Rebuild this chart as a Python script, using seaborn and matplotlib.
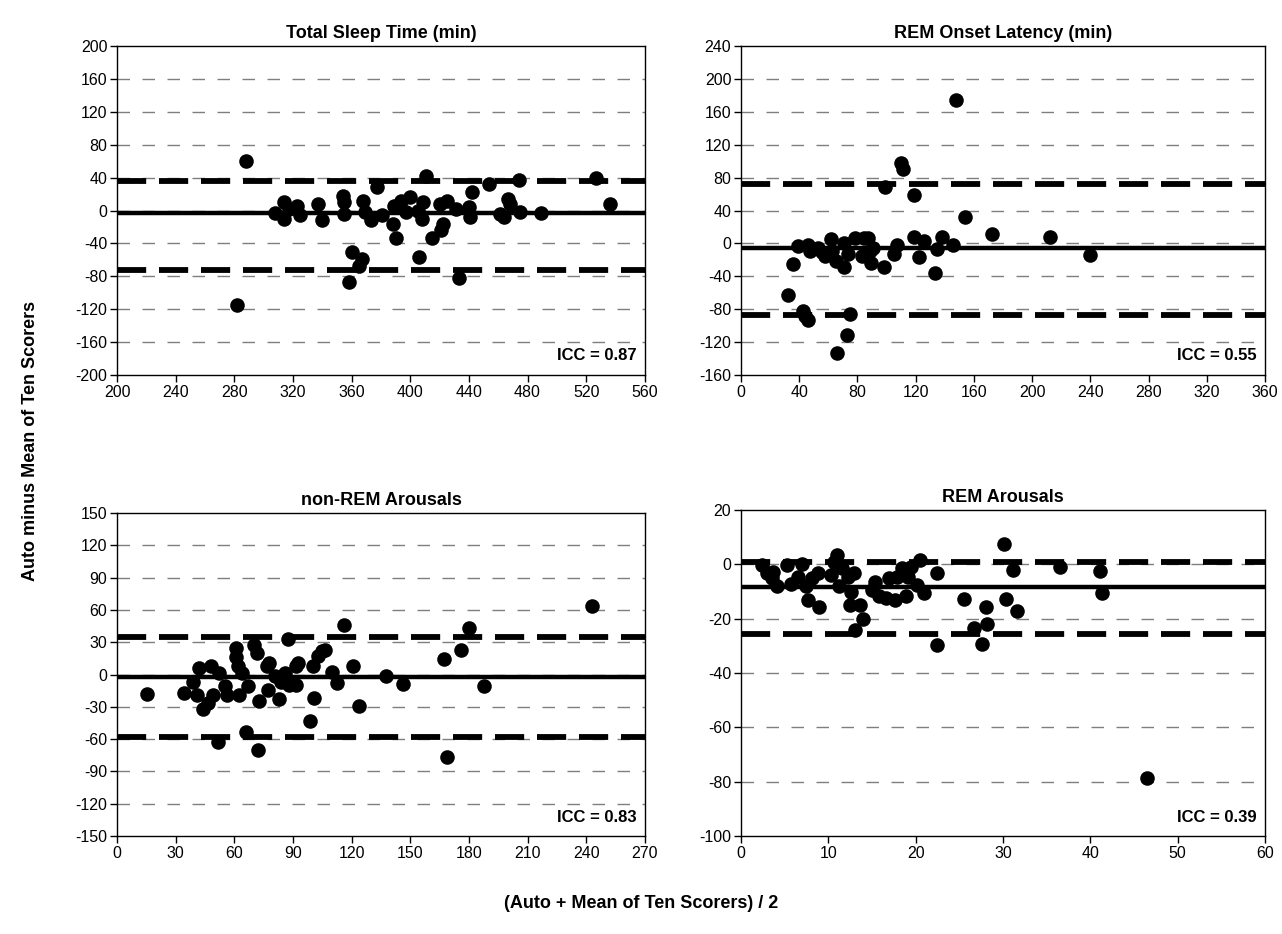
import matplotlib
matplotlib.use("Agg")
import matplotlib.pyplot as plt
import seaborn as sns
import numpy as np
import pandas as pd

# ---------------- data ----------------
tst_x = [288, 282, 308, 314, 314, 317, 323, 325, 337, 340, 354, 355, 355, 360, 367, 365, 358,
         368, 369, 373, 377, 381, 388, 390, 389, 394, 400, 397, 405, 408, 409, 411, 406, 415,
         421, 422, 420, 425, 433, 431, 440, 441, 442, 454, 461, 464, 467, 468, 474, 475, 489,
         527, 536]
tst_y = [60, -115, -3, 10, -10, 2, 6, -6, 8, -12, 18, 10, -4, -50, -59, -67, -87,
         12, -2, -12, 28, -6, -16, -33, 6, 12, 16, -2, 0, -10, 10, 42, -56, -34,
         -24, -16, 8, 12, -82, 2, 4, -8, 23, 32, -4, -8, 14, 8, 37, -2, -3,
         40, 8]

rol_x = [147.5, 109.6, 111.3, 99, 119, 154, 172.8, 212.5, 239.5, 32, 35.5, 39, 42.6, 43.8,
         45.7, 45.7, 47.3, 53, 55.6, 58, 62, 62.7, 65, 70.5, 66, 72.9, 75, 71, 73.4, 78,
         82.8, 84.7, 87.6, 88.8, 91, 89, 98, 105.3, 107, 119, 122, 125.4, 133, 134.4, 138,
         145.6]
rol_y = [174, 98, 90, 68, 59, 32, 11, 8, -14, -63, -25, -3, -82, -88,
         -93, -2, -9, -5, -11, -15, 5, -9, -21, -29, -133, -111, -86, 1, -13, 7,
         -15, 7, 7, -9, -5, -24, -29, -13, -2, 8, -17, 3, -36, -7, 8,
         -2]

nra_x = [15.5, 34.5, 38.9, 40.8, 42, 43.8, 46.5, 47.9, 49, 51.8, 52.3, 55.3, 56, 61, 61,
         62, 62.4, 64, 66, 66.8, 70.3, 71.7, 72.4, 72, 76.5, 77.7, 77.4, 80.6, 82.7, 84, 86,
         87.6, 88, 91.5, 91.5, 92.4, 98.6, 100, 101, 103, 104.8, 106.5, 110, 112.7, 116,
         120.7, 123.7, 137.5, 146.3, 167.5, 169, 176, 180, 187.8, 243]
nra_y = [-18, -17, -7, -19, 6, -32, -26, 8, -19, -63, 1, -11, -19, 25, 16,
         8, -19, 1, -53, -11, 27, 20, -25, -70, 8, 11, -14, -1, -23, -7, 1,
         33, -10, 8, -10, 11, -43, 8, -22, 17, 22, 23, 2, -8, 46,
         8, -29, -1, -9, 14, -77, 23, 43, -11, 64]

ra_x = [2.4, 3.0, 3.6, 4.1, 3.7, 5.3, 5.7, 6.5, 7.0, 7.5, 7.7, 8.1, 8.8, 8.9, 10.3, 10.7,
        11.0, 11.2, 11.6, 12.2, 12.6, 12.5, 12.9, 13.6, 14.0, 13.1, 15.0, 15.4, 15.8, 16.6,
        17.0, 17.6, 17.9, 18.4, 18.9, 19.1, 19.5, 20.1, 20.5, 21.0, 22.5, 22.5, 25.5, 26.7,
        27.6, 28.0, 28.2, 30.1, 30.3, 31.1, 31.6, 36.5, 41.1, 41.3, 46.5]
ra_y = [-0.2, -3.3, -5, -8, -2.7, -0.2, -7.3, -4.5, 0.2, -8, -13, -5, -3.3, -15.8, -3.9, 1,
        3.4, -8, -1.5, -4.5, -10, -14.8, -3.3, -14.8, -20, -24, -9.3, -6.5, -11.8, -12.4,
        -5, -13, -4.5, -1.5, -11.8, -4.5, -0.8, -7.5, 1.6, -10.5, -3.3, -29.6, -12.7, -23.3,
        -29.3, -15.8, -22, 7.6, -12.6, -2, -17.2, -1.1, -2.3, -10.5, -78.7]

titles = ["Total Sleep Time (min)", "REM Onset Latency (min)", "non-REM Arousals", "REM Arousals"]
icc_labels = ["ICC = 0.87", "ICC = 0.55", "ICC = 0.83", "ICC = 0.39"]
mean_bias = [-3.5, -6, -2.5, -8.3]
upper_loa = [36, 72, 35, 0.8]
lower_loa = [-72, -87, -58, -25.6]
xlims = [(200, 560), (0, 360), (0, 270), (0, 60)]
ylims = [(-200, 200), (-160, 240), (-150, 150), (-100, 20)]
xsteps = [40, 40, 30, 10]
ysteps = [40, 40, 30, 20]

# ---------------- style ----------------
sns.set_style("ticks")
plt.rcParams['font.family'] = ['Liberation Sans', 'DejaVu Sans']
plt.rcParams['axes.unicode_minus'] = False
plt.rcParams['text.color'] = 'black'
plt.rcParams['axes.labelcolor'] = 'black'
plt.rcParams['xtick.color'] = 'black'
plt.rcParams['ytick.color'] = 'black'
plt.rcParams['axes.edgecolor'] = 'black'

fig = plt.figure(figsize=(12.82, 9.34), dpi=100)
positions = [
    [0.0913, 0.5985, 0.4117, 0.3522],
    [0.5780, 0.5985, 0.4087, 0.3522],
    [0.0913, 0.1049, 0.4117, 0.3458],
    [0.5780, 0.1049, 0.4087, 0.3490],
]
datasets = [(tst_x, tst_y), (rol_x, rol_y), (nra_x, nra_y), (ra_x, ra_y)]

for i, (xs, ys) in enumerate(datasets):
    ax = fig.add_axes(positions[i])
    df = pd.DataFrame({"x": xs, "y": ys})
    x0, x1 = xlims[i]
    y0, y1 = ylims[i]
    # grid lines (inner only)
    for yv in np.arange(y0 + ysteps[i], y1, ysteps[i]):
        ax.axhline(yv, color="#7f7f7f", lw=1.0, dashes=(9, 9), zorder=1)
    ax.axhline(mean_bias[i], color="black", lw=3.2, zorder=2)
    ax.axhline(upper_loa[i], color="black", lw=4.2, dashes=(5, 2.2), zorder=2)
    ax.axhline(lower_loa[i], color="black", lw=4.2, dashes=(5, 2.2), zorder=2)
    sns.scatterplot(data=df, x="x", y="y", ax=ax, color="black", s=110,
                    edgecolor="black", linewidth=0, zorder=3, legend=False)
    ax.set_xlim(x0, x1)
    ax.set_ylim(y0, y1)
    ax.set_xticks(np.arange(x0, x1 + 0.1, xsteps[i]))
    ax.set_yticks(np.arange(y0, y1 + 0.1, ysteps[i]))
    ax.set_xlabel("")
    ax.set_ylabel("")
    ax.tick_params(axis="both", direction="out", length=5, width=1,
                   labelsize=11.5, color="black", labelcolor="black", pad=2)
    for sp in ax.spines.values():
        sp.set_visible(True)
        sp.set_color("black")
        sp.set_linewidth(1.0)
    ax.set_title(titles[i], fontsize=13, fontweight="bold", pad=6, color="black")
    ax.text(0.985, 0.035, icc_labels[i], transform=ax.transAxes, ha="right",
            va="bottom", fontsize=12, fontweight="bold", color="black")

fig.text(0.024, 0.528, "Auto minus Mean of Ten Scorers", rotation=90, ha="center",
         va="center", fontsize=13, fontweight="bold", color="black")
fig.text(0.5, 0.033, "(Auto + Mean of Ten Scorers) / 2", ha="center", va="center",
         fontsize=13, fontweight="bold", color="black")

fig.savefig("out.png", dpi=100)
